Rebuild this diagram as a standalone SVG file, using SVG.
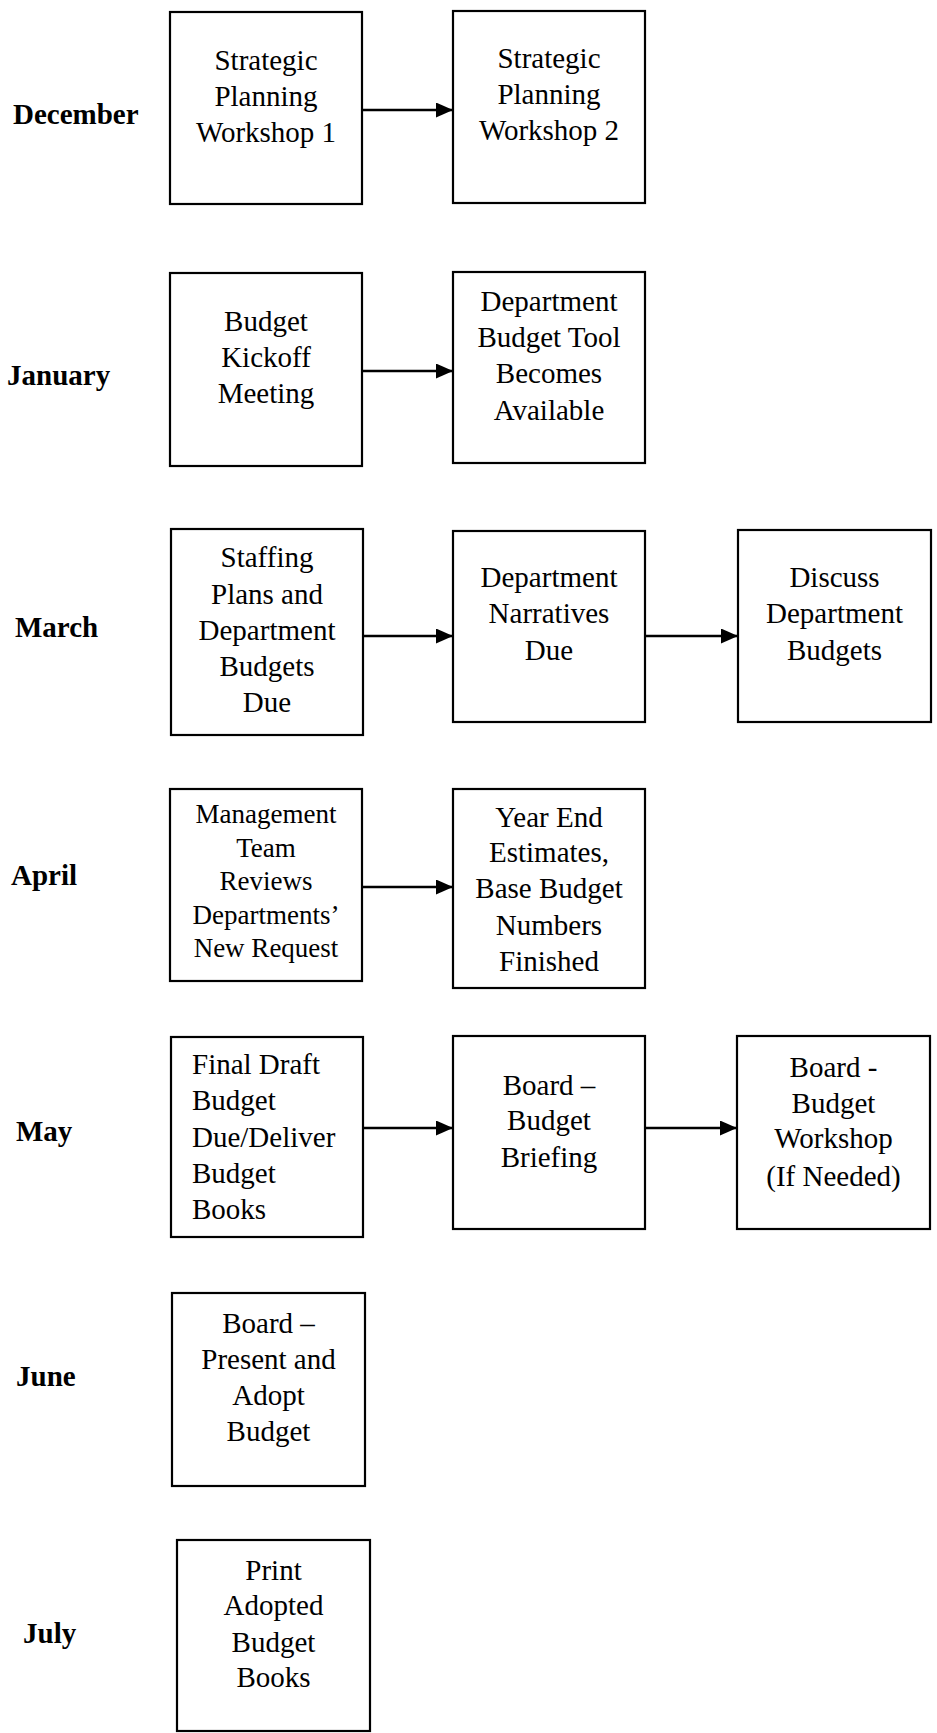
<svg xmlns="http://www.w3.org/2000/svg" width="937" height="1733" viewBox="0 0 937 1733">
  <style>
    .box { fill: #ffffff; stroke: #000000; stroke-width: 2.2; }
    .t { font-family: "Liberation Serif", "Times New Roman", serif; font-size: 29px; fill: #000000; text-anchor: middle; }
    .ts { font-size: 27px; }
    .tl { text-anchor: start; }
    .month { font-family: "Liberation Serif", "Times New Roman", serif; font-size: 29px; font-weight: bold; fill: #000000; }
    .arrow { stroke: #000000; stroke-width: 2.6; fill: none; marker-end: url(#head); }
  </style>
  <defs>
    <marker id="head" markerUnits="userSpaceOnUse" markerWidth="17" markerHeight="15" refX="17" refY="7.5" orient="auto">
      <path d="M0,0 L17,7.5 L0,15 Z" fill="#000000"/>
    </marker>
  </defs>
  <rect x="0" y="0" width="937" height="1733" fill="#ffffff"/>

  <!-- month labels -->
  <g id="months">
    <text class="month" x="13" y="124">December</text>
    <text class="month" x="7" y="385">January</text>
    <text class="month" x="15" y="637">March</text>
    <text class="month" x="11" y="885">April</text>
    <text class="month" x="16" y="1141">May</text>
    <text class="month" x="16" y="1386">June</text>
    <text class="month" x="23" y="1643">July</text>
  </g>

  <!-- December -->
  <g id="workshop1">
    <rect class="box" x="170" y="12" width="192" height="192"/>
    <text class="t" x="266" y="70">Strategic</text>
    <text class="t" x="266" y="106">Planning</text>
    <text class="t" x="266" y="142">Workshop 1</text>
  </g>
  <g id="workshop2">
    <rect class="box" x="453" y="11" width="192" height="192"/>
    <text class="t" x="549" y="68">Strategic</text>
    <text class="t" x="549" y="104">Planning</text>
    <text class="t" x="549" y="140">Workshop 2</text>
  </g>

  <!-- January -->
  <g id="kickoff">
    <rect class="box" x="170" y="273" width="192" height="193"/>
    <text class="t" x="266" y="331">Budget</text>
    <text class="t" x="266" y="367">Kickoff</text>
    <text class="t" x="266" y="403">Meeting</text>
  </g>
  <g id="budget-tool">
    <rect class="box" x="453" y="272" width="192" height="191"/>
    <text class="t" x="549" y="311">Department</text>
    <text class="t" x="549" y="347">Budget Tool</text>
    <text class="t" x="549" y="383">Becomes</text>
    <text class="t" x="549" y="420">Available</text>
  </g>

  <!-- March -->
  <g id="staffing">
    <rect class="box" x="171" y="529" width="192" height="206"/>
    <text class="t" x="267" y="567">Staffing</text>
    <text class="t" x="267" y="604">Plans and</text>
    <text class="t" x="267" y="640">Department</text>
    <text class="t" x="267" y="676">Budgets</text>
    <text class="t" x="267" y="712">Due</text>
  </g>
  <g id="narratives">
    <rect class="box" x="453" y="531" width="192" height="191"/>
    <text class="t" x="549" y="587">Department</text>
    <text class="t" x="549" y="623">Narratives</text>
    <text class="t" x="549" y="660">Due</text>
  </g>
  <g id="discuss">
    <rect class="box" x="738" y="530" width="193" height="192"/>
    <text class="t" x="834.5" y="587">Discuss</text>
    <text class="t" x="834.5" y="623">Department</text>
    <text class="t" x="834.5" y="660">Budgets</text>
  </g>

  <!-- April -->
  <g id="mgmt-review">
    <rect class="box" x="170" y="789" width="192" height="192"/>
    <text class="t ts" x="266" y="823">Management</text>
    <text class="t ts" x="266" y="857">Team</text>
    <text class="t ts" x="266" y="890">Reviews</text>
    <text class="t ts" x="266" y="924">Departments’</text>
    <text class="t ts" x="266" y="957">New Request</text>
  </g>
  <g id="year-end">
    <rect class="box" x="453" y="789" width="192" height="199"/>
    <text class="t" x="549" y="827">Year End</text>
    <text class="t" x="549" y="862">Estimates,</text>
    <text class="t" x="549" y="898">Base Budget</text>
    <text class="t" x="549" y="935">Numbers</text>
    <text class="t" x="549" y="971">Finished</text>
  </g>

  <!-- May -->
  <g id="final-draft">
    <rect class="box" x="171" y="1037" width="192" height="200"/>
    <text class="t tl" x="192" y="1074">Final Draft</text>
    <text class="t tl" x="192" y="1110">Budget</text>
    <text class="t tl" x="192" y="1147">Due/Deliver</text>
    <text class="t tl" x="192" y="1183">Budget</text>
    <text class="t tl" x="192" y="1219">Books</text>
  </g>
  <g id="briefing">
    <rect class="box" x="453" y="1036" width="192" height="193"/>
    <text class="t" x="549" y="1095">Board –</text>
    <text class="t" x="549" y="1130">Budget</text>
    <text class="t" x="549" y="1167">Briefing</text>
  </g>
  <g id="board-workshop">
    <rect class="box" x="737" y="1036" width="193" height="193"/>
    <text class="t" x="833.5" y="1077">Board -</text>
    <text class="t" x="833.5" y="1113">Budget</text>
    <text class="t" x="833.5" y="1148">Workshop</text>
    <text class="t" x="833.5" y="1186">(If Needed)</text>
  </g>

  <!-- June -->
  <g id="adopt">
    <rect class="box" x="172" y="1293" width="193" height="193"/>
    <text class="t" x="268.5" y="1333">Board –</text>
    <text class="t" x="268.5" y="1369">Present and</text>
    <text class="t" x="268.5" y="1405">Adopt</text>
    <text class="t" x="268.5" y="1441">Budget</text>
  </g>

  <!-- July -->
  <g id="print">
    <rect class="box" x="177" y="1540" width="193" height="191"/>
    <text class="t" x="273.5" y="1580">Print</text>
    <text class="t" x="273.5" y="1615">Adopted</text>
    <text class="t" x="273.5" y="1652">Budget</text>
    <text class="t" x="273.5" y="1687">Books</text>
  </g>

  <!-- connectors -->
  <g id="connectors">
    <line class="arrow" x1="362" y1="110" x2="453" y2="110"/>
    <line class="arrow" x1="362" y1="371" x2="453" y2="371"/>
    <line class="arrow" x1="363" y1="636" x2="453" y2="636"/>
    <line class="arrow" x1="645" y1="636" x2="738" y2="636"/>
    <line class="arrow" x1="362" y1="887" x2="453" y2="887"/>
    <line class="arrow" x1="363" y1="1128" x2="453" y2="1128"/>
    <line class="arrow" x1="645" y1="1128" x2="737" y2="1128"/>
  </g>
</svg>
